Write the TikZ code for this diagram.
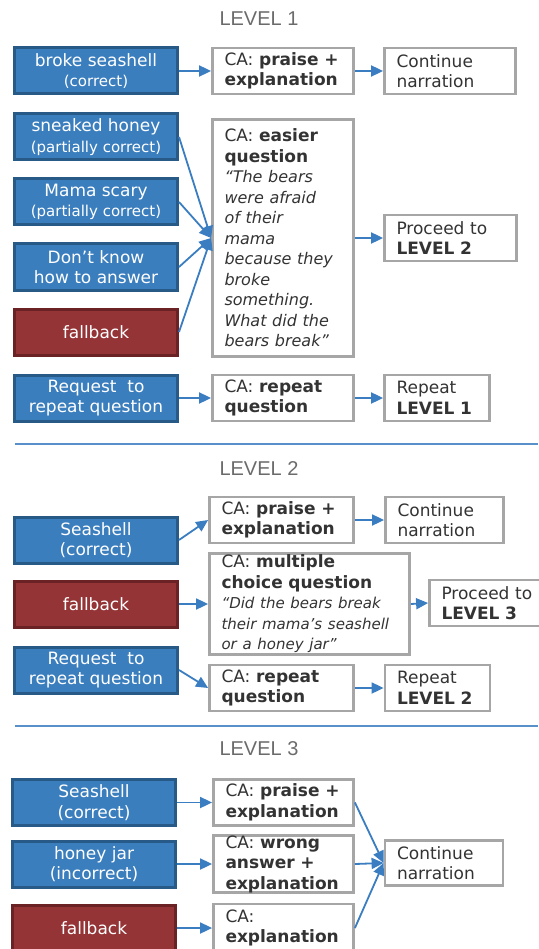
\documentclass[tikz,border=0pt]{standalone}
\usepackage{fontspec}
\setmainfont{DejaVu Sans}
\newfontfamily\titlefont{Liberation Sans}
\usetikzlibrary{arrows.meta}

\definecolor{boxblue}{HTML}{3B7EBE}
\definecolor{edgeblue}{HTML}{285A88}
\definecolor{boxred}{HTML}{953436}
\definecolor{edgered}{HTML}{6B2224}
\definecolor{edgegray}{HTML}{A6A6A6}
\definecolor{textgray}{HTML}{333333}
\definecolor{titlegray}{HTML}{6B6B6B}
\definecolor{flowblue}{HTML}{3A7DC0}

\newcommand{\sm}[1]{{\fontsize{15}{18}\selectfont #1}}
\newcommand{\ql}[1]{{\fontsize{16}{20.5}\selectfont\itshape #1}}
\newcommand{\qt}[1]{{\fontsize{15}{19}\selectfont\itshape #1}}

\begin{document}
\begin{tikzpicture}[x=1pt,y=-1pt]
% Styles for the three kinds of boxes
\tikzstyle{blue node}=[rectangle,draw=edgeblue,fill=boxblue,line width=3pt,text=white,align=center,minimum width=163,minimum height=46,inner sep=0,font=\fontsize{17}{20.5}\selectfont]
\tikzstyle{red node}=[blue node,draw=edgered,fill=boxred]
\tikzstyle{ca node}=[rectangle,draw=edgegray,fill=white,line width=2.8pt,text=textgray,align=left,inner xsep=12,inner ysep=0,minimum height=46,font=\fontsize{17}{20.5}\selectfont]
\tikzset{
level title/.style={text=titlegray,font=\titlefont\fontsize{20}{24}\selectfont},
flow/.style={draw=flowblue,line width=1.8pt,-{Triangle[length=12pt,width=11pt]}},
split line/.style={draw=flowblue!85,line width=1.4pt}
}
\useasboundingbox (0,0) rectangle (538,949);

% LEVEL 1
\node[level title] (title1) at (259,19) {LEVEL 1};
\node[blue node] (correct1) at (96,71) {broke seashell\\\sm{(correct)}};
\node[ca node,text width=117] (praise1) at (283,71) {CA: \textbf{praise +}\\\textbf{explanation}};
\node[ca node,text width=107] (cont1) at (450,71) {Continue\\narration};
\node[blue node] (honey1) at (96,137) {sneaked honey\\\sm{(partially correct)}};
\node[blue node] (scary1) at (96,202) {Mama scary\\\sm{(partially correct)}};
\node[blue node] (dunno1) at (96,267) {Don’t know\\how to answer};
\node[red node] (fb1) at (96,332) {fallback};
\node[ca node,text width=117,minimum height=237] (easy1) at (283,238) {CA: \textbf{easier}\\\textbf{question}\\\ql{“The bears}\\\ql{were afraid}\\\ql{of their}\\\ql{mama}\\\ql{because they}\\\ql{broke}\\\ql{something.}\\\ql{What did the}\\\ql{bears break”}};
\node[ca node,text width=108] (proc1) at (450.5,238) {Proceed to\\\textbf{LEVEL 2}};
\node[blue node] (req1) at (96,398) {Request~ to\\repeat question};
\node[ca node,text width=117] (rep1) at (283,398) {CA: \textbf{repeat}\\\textbf{question}};
\node[ca node,text width=81] (again1) at (437,398) {Repeat\\\textbf{LEVEL 1}};
\draw[flow] (correct1.east) -- (praise1.west);
\draw[flow] (praise1.east) -- (cont1.west);
\draw[flow] (honey1.east) -- (easy1.west);
\draw[flow] (scary1.east) -- (easy1.west);
\draw[flow] (dunno1.east) -- (easy1.west);
\draw[flow] (fb1.east) -- (easy1.west);
\draw[flow] (easy1.east) -- (proc1.west);
\draw[flow] (req1.east) -- (rep1.west);
\draw[flow] (rep1.east) -- (again1.west);
\coordinate (cut1a) at (15,444);
\coordinate (cut1b) at (538,444);
\draw[split line] (cut1a) -- (cut1b);

% LEVEL 2
\node[level title] (title2) at (259,469) {LEVEL 2};
\node[blue node] (correct2) at (96,540) {Seashell\\(correct)};
\node[ca node,text width=120] (praise2) at (281.5,520) {CA: \textbf{praise +}\\\textbf{explanation}};
\node[ca node,text width=94] (cont2) at (444.5,520) {Continue\\narration};
\node[red node] (fb2) at (96,604) {fallback};
\node[ca node,text width=176,minimum height=101] (choice2) at (309.5,604) {CA: \textbf{multiple}\\\textbf{choice question}\\\qt{“Did the bears break}\\\qt{their mama’s seashell}\\\qt{or a honey jar”}};
\node[ca node,text width=93] (proc2) at (488,603) {Proceed to\\\textbf{LEVEL 3}};
\node[blue node] (req2) at (96,670) {Request~ to\\repeat question};
\node[ca node,text width=120] (rep2) at (281.5,688) {CA: \textbf{repeat}\\\textbf{question}};
\node[ca node,text width=81] (again2) at (437.5,688) {Repeat\\\textbf{LEVEL 2}};
\draw[flow] (correct2.east) -- (praise2.west);
\draw[flow] (praise2.east) -- (cont2.west);
\draw[flow] (fb2.east) -- (choice2.west);
\draw[flow] (choice2.east) -- (proc2.west);
\draw[flow] (req2.east) -- (rep2.west);
\draw[flow] (rep2.east) -- (again2.west);
\coordinate (cut2a) at (15,726);
\coordinate (cut2b) at (538,726);
\draw[split line] (cut2a) -- (cut2b);

% LEVEL 3
\node[level title] (title3) at (259,749) {LEVEL 3};
\node[blue node] (correct3) at (94,802.5) {Seashell\\(correct)};
\node[ca node,text width=116] (praise3) at (283.5,802.5) {CA: \textbf{praise +}\\\textbf{explanation}};
\node[blue node] (honey3) at (94,864) {honey jar\\(incorrect)};
\node[ca node,text width=116,minimum height=56] (wrong3) at (283.5,864) {CA: \textbf{wrong}\\\textbf{answer +}\\\textbf{explanation}};
\node[red node] (fb3) at (94,928) {fallback};
\node[ca node,text width=116,minimum height=48] (expl3) at (283.5,928) {CA:\\\textbf{explanation}};
\node[ca node,text width=94,minimum height=45] (cont3) at (444,863) {Continue\\narration};
\draw[flow] (correct3.east) -- (praise3.west);
\draw[flow] (honey3.east) -- (wrong3.west);
\draw[flow] (fb3.east) -- (expl3.west);
\draw[flow] (praise3.east) -- (cont3.west);
\draw[flow] (wrong3.east) -- (cont3.west);
\draw[flow] (expl3.east) -- (cont3.west);
\end{tikzpicture}
\end{document}
